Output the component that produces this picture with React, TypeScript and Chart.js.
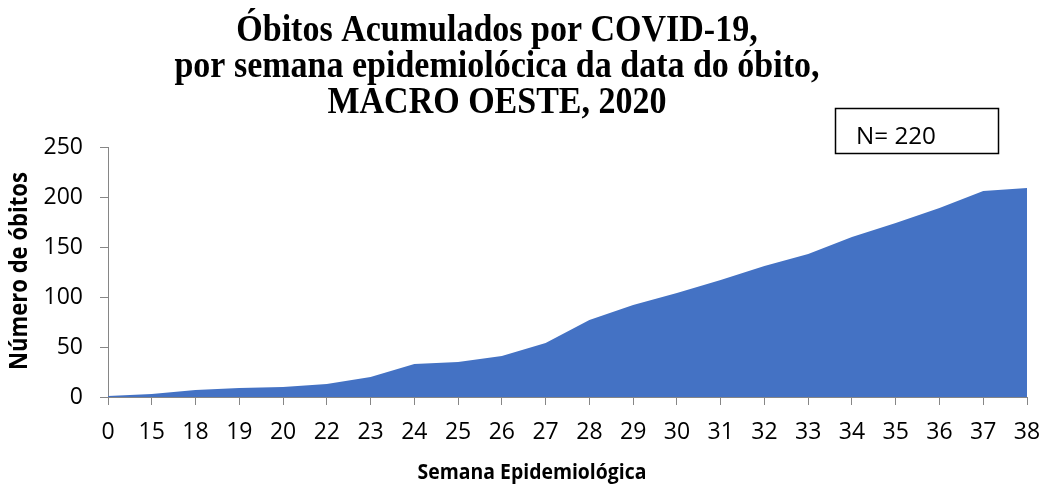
import React, { useEffect, useRef } from "react";
import { Chart, registerables } from "chart.js";

Chart.register(...registerables);

const weeks = ["0", "15", "18", "19", "20", "22", "23", "24", "25", "26", "27", "28", "29", "30", "31", "32", "33", "34", "35", "36", "37", "38"];
const deaths = [1, 3, 7, 9, 10, 13, 20, 33, 35, 41, 54, 77, 92, 104, 117, 131, 143, 160, 174, 189, 206, 209];
const titleLines = ["Óbitos Acumulados por COVID-19,", "por semana epidemiolócica da data do óbito,", "MACRO OESTE, 2020"];
const xTitle = "Semana Epidemiológica";
const yTitle = "Número de óbitos";
const boxText = "N= 220";
const yMax = 250;
const yStep = 50;

function fitFont(ctx: CanvasRenderingContext2D, text: string, weight: string, family: string, target: number) {
  const base = 20;
  ctx.font = `${weight} ${base}px ${family}`;
  const w = ctx.measureText(text).width;
  const size = (base * target) / w;
  return `${weight} ${size.toFixed(2)}px ${family}`;
}

const textPlugin = {
  id: "texts",
  afterDraw(chart: any) {
    const ctx: CanvasRenderingContext2D = chart.ctx;
    ctx.save();
    ctx.fillStyle = "#000";
    // title
    const serif = "'Liberation Serif', 'DejaVu Serif', serif";
    const tFont = fitFont(ctx, titleLines[1], "bold", serif, 645);
    ctx.textAlign = "center";
    ctx.textBaseline = "alphabetic";
    const baselines = [41, 77, 113];
    titleLines.forEach((l, i) => {
      ctx.save();
      ctx.translate(497, baselines[i]);
      ctx.scale(1, 1.1);
      ctx.font = tFont;
      ctx.fillText(l, 0, 0);
      ctx.restore();
    });
    // N box
    ctx.lineWidth = 1.5;
    ctx.strokeStyle = "#000";
    ctx.strokeRect(835.5, 108.5, 163, 45);
    ctx.font = fitFont(ctx, boxText, "normal", "'Open Sans', sans-serif", 80);
    ctx.textAlign = "left";
    ctx.textBaseline = "middle";
    ctx.fillText(boxText, 856, 137);
    // x title
    ctx.save();
    ctx.translate(532, 473);
    ctx.scale(1, 1.1);
    ctx.font = fitFont(ctx, xTitle, "bold", "'Open Sans', sans-serif", 229);
    ctx.textAlign = "center";
    ctx.fillText(xTitle, 0, 0);
    ctx.restore();
    // y title
    ctx.translate(20, 271);
    ctx.rotate(-Math.PI / 2);
    ctx.scale(1, 1.1);
    ctx.font = fitFont(ctx, yTitle, "bold", "'Open Sans', sans-serif", 198);
    ctx.textAlign = "center";
    ctx.fillText(yTitle, 0, 0);
    ctx.restore();
  },
};

export default function App() {
  const ref = useRef<HTMLCanvasElement>(null);
  useEffect(() => {
    if (!ref.current) return;
    const tickFont = { family: "'Open Sans', sans-serif", size: 23 };
    const chart = new Chart(ref.current, {
      type: "line",
      data: {
        labels: weeks,
        datasets: [
          {
            data: deaths,
            fill: "origin",
            backgroundColor: "#4472C4",
            borderColor: "#4472C4",
            borderWidth: 0,
            pointRadius: 0,
            tension: 0,
          },
        ],
      },
      options: {
        animation: false,
        responsive: false,
        devicePixelRatio: 1,
        layout: { padding: { top: 147, right: 24, left: 0, bottom: 0 } },
        plugins: { legend: { display: false }, title: { display: false }, tooltip: { enabled: false } },
        scales: {
          x: {
            type: "category",
            offset: false,
            grid: { drawOnChartArea: false, drawTicks: true, tickLength: 8, color: "#868686" },
            border: { color: "#868686", width: 1 },
            ticks: { font: tickFont, color: "#000", padding: 14, maxRotation: 0, autoSkip: false },
            afterFit: (s: any) => {
              s.height = 88;
              s.paddingLeft = 0;
              s.paddingRight = 0;
            },
          },
          y: {
            min: 0,
            max: yMax,
            grid: { drawOnChartArea: false, drawTicks: true, tickLength: 8, color: "#868686" },
            border: { color: "#868686", width: 1 },
            ticks: { stepSize: yStep, font: tickFont, color: "#000", padding: 17 },
            afterFit: (s: any) => {
              s.width = 108;
              s.paddingTop = 0;
              s.paddingBottom = 0;
            },
          },
        },
      },
      plugins: [textPlugin],
    });
    return () => chart.destroy();
  }, []);
  return (
    <div style={{ position: "absolute", left: 0, top: 0, width: 1051, height: 485, background: "#fff" }}>
      <canvas ref={ref} width={1051} height={485} style={{ width: 1051, height: 485 }} />
    </div>
  );
}
